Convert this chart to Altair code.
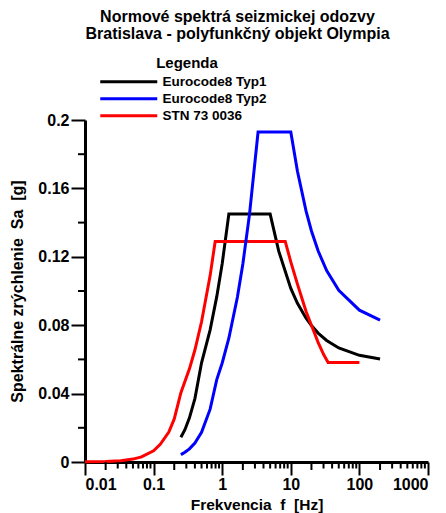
import altair as alt
import pandas as pd

FONT = "Liberation Sans"

series_names = ["Eurocode8 Typ1", "Eurocode8 Typ2", "STN 73 0036"]
series_colors = ["#000000", "#0000ff", "#ff0000"]

# Eurocode8 Typ1
ec1_f = [0.25, 0.286, 0.333, 0.4, 0.5, 0.667, 0.833, 1.0, 1.25, 5.0,
         6.67, 10.0, 12.5, 16.7, 20.0, 25.0, 33.3, 50.0, 100.0, 200.0]
ec1_sa = [0.0145, 0.0189, 0.0258, 0.0371, 0.058, 0.0773, 0.0967, 0.116, 0.145, 0.145,
          0.1233, 0.1015, 0.0928, 0.0841, 0.0798, 0.0754, 0.0711, 0.0667, 0.0624, 0.0602]

# Eurocode8 Typ2
ec2_f = [0.25, 0.286, 0.333, 0.4, 0.5, 0.667, 0.833, 1.0, 1.25, 1.667, 2.0, 2.5, 3.333,
         10.0, 12.5, 16.7, 20.0, 25.0, 33.3, 50.0, 100.0, 200.0]
ec2_sa = [0.0043, 0.0057, 0.0077, 0.0111, 0.0174, 0.0309, 0.0482, 0.0579, 0.0724, 0.0965,
          0.1158, 0.1448, 0.193, 0.193, 0.170, 0.1467, 0.1351, 0.1235, 0.1119, 0.1004,
          0.0888, 0.083]

# STN 73 0036
stn_f = [0.01, 0.02, 0.0333, 0.05, 0.0667, 0.1, 0.125, 0.1667, 0.2, 0.25, 0.333, 0.4,
         0.5, 0.667, 0.79, 8.3, 10.0, 12.5, 16.7, 20.0, 25.0, 30.0, 35.0, 100.0]
stn_sa = [0.0001, 0.0003, 0.0007, 0.0017, 0.003, 0.0066, 0.0103, 0.0175, 0.0252, 0.0405,
          0.0545, 0.0655, 0.082, 0.109, 0.129, 0.129, 0.117, 0.104, 0.088, 0.080, 0.070,
          0.063, 0.0582, 0.0582]

x_major = [0.01, 0.1, 1, 10, 100, 1000]
x_decades = [0.01, 0.1, 1, 10, 100]
x_minor_mult = [3, 4, 5, 6, 7, 8, 9]
x_mid_mult = [2]
y_major = [0, 0.04, 0.08, 0.12, 0.16, 0.2]
y_minor = [0.02, 0.06, 0.10, 0.14, 0.18]

title_lines = ["Normové spektrá seizmickej odozvy", "Bratislava - polyfunkčný objekt Olympia"]
x_title = "Frekvencia \u00a0f \u00a0[Hz]"
y_title = "Spektrálne zrýchlenie \u00a0Sa \u00a0[g]"
legend_title = "Legenda"

W, H = 343, 342

rows = []
for name, fs, ss in [(series_names[0], ec1_f, ec1_sa),
                     (series_names[2], stn_f, stn_sa),
                     (series_names[1], ec2_f, ec2_sa)]:
    for f, s in zip(fs, ss):
        rows.append({"series": name, "f": f, "sa": s})
df = pd.DataFrame(rows)

xminor_df = pd.DataFrame({"v": [d * m for d in x_decades for m in x_minor_mult]})
xmid_df = pd.DataFrame({"v": [d * m for d in x_decades for m in x_mid_mult]})
yminor_df = pd.DataFrame({"v": y_minor})

xscale = alt.Scale(type="log", domain=[0.01, 1000], nice=False)
yscale = alt.Scale(domain=[0, 0.2], nice=False, zero=False)

lines = alt.Chart(df).mark_line(strokeWidth=3).encode(
    x=alt.X("f:Q", scale=xscale,
            axis=alt.Axis(values=x_major, format="~g", title=x_title,
                          tickSize=13, tickWidth=2, domainWidth=3,
                          labelPadding=1, titlePadding=5, titleFontSize=15.5)),
    y=alt.Y("sa:Q", scale=yscale,
            axis=alt.Axis(values=y_major, format="~g", title=y_title,
                          tickSize=14, tickWidth=2, domainWidth=3,
                          labelPadding=2, titlePadding=12, titleFontSize=16)),
    color=alt.Color("series:N",
                    scale=alt.Scale(domain=series_names, range=series_colors),
                    legend=alt.Legend(title=legend_title, orient="none",
                                      legendX=23, legendY=-64,
                                      symbolType="M-2.9,0H8.5", symbolSize=100,
                                      symbolStrokeWidth=3, labelOffset=41,
                                      labelFont=FONT, labelFontSize=13.5,
                                      labelFontWeight="bold", labelColor="#000",
                                      titleFont=FONT, titleFontSize=15,
                                      titleFontWeight="bold", titleColor="#000",
                                      titleAnchor="middle", titlePadding=4,
                                      rowPadding=2, padding=0)),
    detail="series:N",
)

xminor = alt.Chart(xminor_df).mark_rule(color="#000", strokeWidth=2).encode(
    x=alt.X("v:Q", scale=xscale), y=alt.value(H), y2=alt.value(H + 6.5))
xmid = alt.Chart(xmid_df).mark_rule(color="#000", strokeWidth=2).encode(
    x=alt.X("v:Q", scale=xscale), y=alt.value(H), y2=alt.value(H + 8))
yminor = alt.Chart(yminor_df).mark_rule(color="#000", strokeWidth=2).encode(
    y=alt.Y("v:Q", scale=yscale), x=alt.value(0), x2=alt.value(-7))

chart = alt.layer(lines, xminor, xmid, yminor).properties(
    width=W, height=H,
    title=alt.TitleParams(text=title_lines, fontSize=16, lineHeight=17, font=FONT,
                          fontWeight="bold", color="#000", anchor="middle",
                          frame="group", dx=-19, offset=14),
    autosize=alt.AutoSizeParams(type="none"),
    padding={"left": 77, "top": 112, "right": 10, "bottom": 55},
).configure_view(stroke=None).configure_axis(
    grid=False, domainColor="#000", tickColor="#000",
    labelFont=FONT, labelFontSize=16, labelFontWeight="bold", labelColor="#000",
    titleFont=FONT, titleFontWeight="bold", titleColor="#000",
)

chart.save("out.html", embed_options={"renderer": "svg", "actions": False})
